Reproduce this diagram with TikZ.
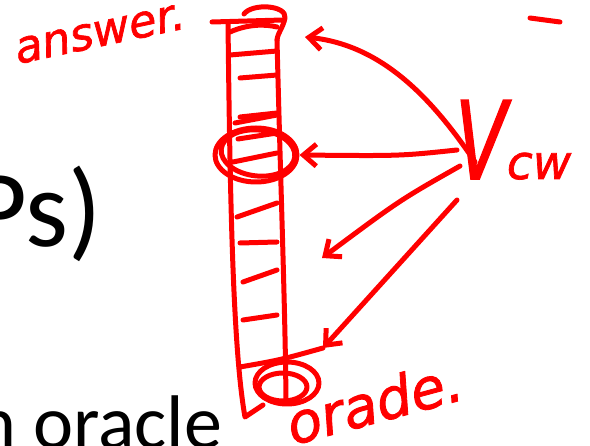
\documentclass[tikz,border=0pt]{standalone}
\usepackage{fontspec}
\usepackage{graphicx}
\newfontfamily\slidefont{Carlito}
\newfontfamily\handfont{DejaVu Sans}[ItalicFeatures={FakeBold=1.5}]
\usetikzlibrary{arrows.meta, shapes.geometric}
\definecolor{ink}{RGB}{255,0,0}

\begin{document}
\begin{tikzpicture}[x=1pt, y=-1pt,
  pen/.style={draw=ink, line width=5pt, line cap=round, line join=round},
  hand/.style={text=ink, inner sep=0pt},
  slide/.style={inner sep=0pt, anchor=base west},
  ring/.style={pen, ellipse, inner sep=0pt},
  arr/.style={pen, -{Straight Barb[length=13pt, width=22pt]}}
]
\useasboundingbox (0,0) rectangle (590,446);
\clip (0,0) rectangle (590,446);

% slide text behind the ink
\node[slide, font=\slidefont\fontsize{110}{110}\selectfont] (pcps) at (-30,247) {Ps)};
\node[slide, font=\slidefont\fontsize{76}{76}\selectfont] (orc) at (-24,449) {n oracle};

% the proof tape
\draw[pen] (228,22) .. controls (230,200) and (233,350) .. (245,417) -- (263,405);
\draw[pen] (277,40) .. controls (281,200) and (285,300) .. (286,400);
\draw[pen] (212,22) -- (283,20);
\draw[pen] (244,14) .. controls (252,3) and (287,5) .. (285,18)
  .. controls (283,28) and (278,32) .. (277,40);
\draw[pen] (230,32) .. controls (248,24) and (265,24) .. (277,27);
\foreach \xa/\ya/\yb in {230/55/51, 240/78/75, 240/117/113, 235/123/115, 238/139/133,
                         233/162/153, 237/217/203, 240/243/242, 243/282/270, 243/320/315}
  \draw[pen] (\xa,\ya) -- (277,\yb);

% queried position and oracle
\node[ring, minimum width=82, minimum height=54] (query) at (256,155) {};
\node[ring, minimum width=74, minimum height=46, rotate=-6] (query2) at (258,153) {};
\node[ring, minimum width=64, minimum height=42] (orac) at (287,383) {};
\node[ring, minimum width=48, minimum height=28] (orac2) at (283,387) {};

% handwriting
\node[hand, font=\handfont\itshape\fontsize{45}{45}\selectfont, rotate=12] (ans) at (100,34) {answer.};
\node[hand, font=\handfont\itshape\fontsize{56}{56}\selectfont, rotate=15] (ora) at (374,402) {orade.};
\node[hand, font=\handfont\itshape, anchor=base west] (vcw) at (455,179)
  {\scalebox{0.7}[1]{\fontsize{108}{108}\selectfont V}\fontsize{47}{47}\selectfont cw};

% where the verifier points
\coordinate (top) at (305,37);
\coordinate (mid) at (322,258);
\coordinate (low) at (323,348);
\coordinate (v1) at (475,162);
\coordinate (v2) at (457,150);
\coordinate (v3) at (460,166);
\coordinate (v4) at (457,200);
\coordinate (tape) at (240,367);

\draw[arr] (v1) .. controls (430,95) and (380,45) .. (top);
\draw[arr] (v2) .. controls (400,156) .. (query.east);
\draw[arr] (v3) .. controls (400,200) .. (mid);
\draw[arr] (v4) -- (low);
\draw[pen] (tape) .. controls (280,360) .. (low);
\draw[pen] (530,18) -- (560,22);
\end{tikzpicture}
\end{document}
